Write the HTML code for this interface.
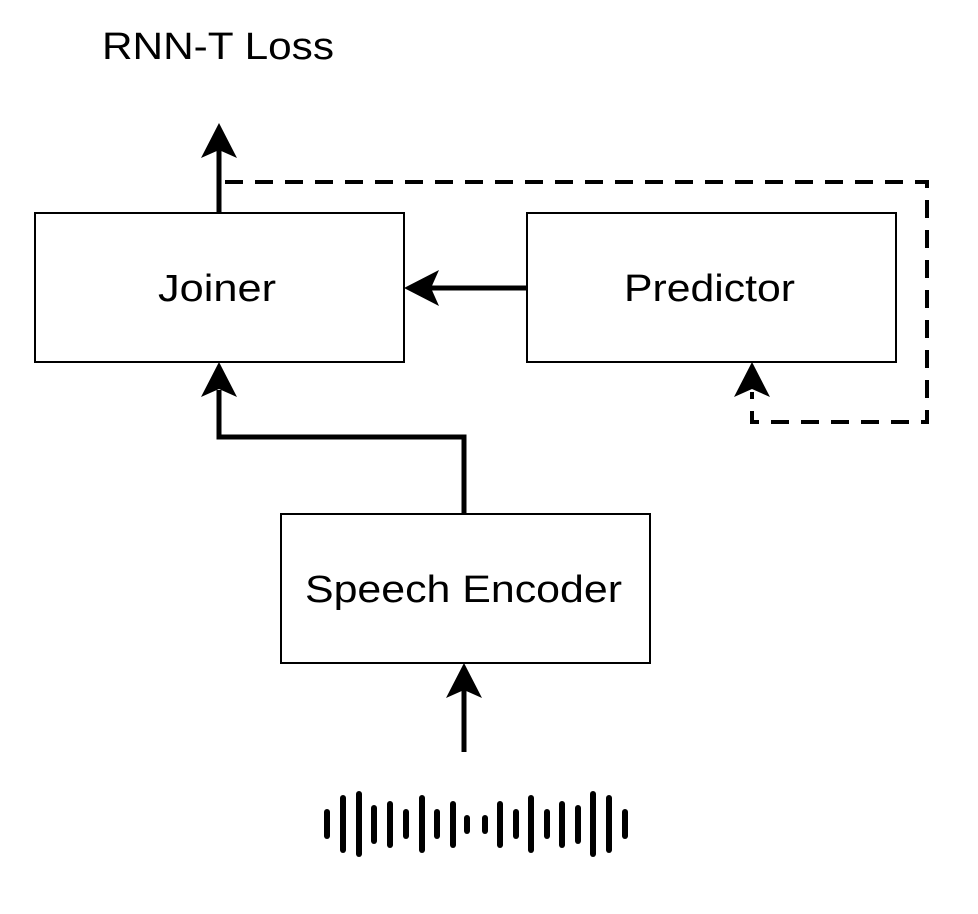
<!DOCTYPE html>
<html><head><style>
html,body{margin:0;padding:0;background:#fff;}
svg{display:block;}
text{font-family:"Liberation Sans",sans-serif;fill:#000;}
</style></head><body>
<svg width="978" height="914" viewBox="0 0 978 914" xmlns="http://www.w3.org/2000/svg">
<text x="102" y="59" font-size="38" textLength="232" lengthAdjust="spacingAndGlyphs">RNN-T Loss</text>
<rect x="35" y="213" width="369" height="149" fill="#fff" stroke="#000" stroke-width="2"/>
<rect x="527" y="213" width="369" height="149" fill="#fff" stroke="#000" stroke-width="2"/>
<rect x="281" y="514" width="369" height="149" fill="#fff" stroke="#000" stroke-width="2"/>
<text x="158" y="301" font-size="38" textLength="118" lengthAdjust="spacingAndGlyphs">Joiner</text>
<text x="624" y="301" font-size="38" textLength="171" lengthAdjust="spacingAndGlyphs">Predictor</text>
<text x="305" y="602" font-size="38" textLength="317" lengthAdjust="spacingAndGlyphs">Speech Encoder</text>
<line x1="219" y1="212" x2="219" y2="150" stroke="#000" stroke-width="5"/>
<path d="M219 123 L237 158 L219 150 L201 158 Z" fill="#000"/>
<path d="M225 182 H927 V422 H752 V392" fill="none" stroke="#000" stroke-width="4" stroke-dasharray="18 12"/>
<path d="M752 362 L770 397 L752 389 L734 397 Z" fill="#000"/>
<line x1="526" y1="288" x2="430" y2="288" stroke="#000" stroke-width="5"/>
<path d="M404 288 L439 270 L431 288 L439 306 Z" fill="#000"/>
<path d="M464 513 V437 H219 V390" fill="none" stroke="#000" stroke-width="5"/>
<path d="M219 362 L237 397 L219 389 L201 397 Z" fill="#000"/>
<line x1="464" y1="752" x2="464" y2="690" stroke="#000" stroke-width="5"/>
<path d="M464 663 L482 698 L464 690 L446 698 Z" fill="#000"/>
<g stroke="#000" stroke-width="6" stroke-linecap="round">
<line x1="327" y1="812" x2="327" y2="836"/>
<line x1="343" y1="798" x2="343" y2="850"/>
<line x1="359" y1="794" x2="359" y2="854"/>
<line x1="374" y1="808" x2="374" y2="841"/>
<line x1="390" y1="804" x2="390" y2="845"/>
<line x1="406" y1="812" x2="406" y2="836"/>
<line x1="422" y1="798" x2="422" y2="850"/>
<line x1="437" y1="812" x2="437" y2="836"/>
<line x1="453" y1="804" x2="453" y2="845"/>
<line x1="467" y1="818" x2="467" y2="831"/>
<line x1="485" y1="818" x2="485" y2="831"/>
<line x1="500" y1="804" x2="500" y2="845"/>
<line x1="516" y1="812" x2="516" y2="836"/>
<line x1="531" y1="798" x2="531" y2="850"/>
<line x1="547" y1="812" x2="547" y2="836"/>
<line x1="562" y1="804" x2="562" y2="845"/>
<line x1="578" y1="808" x2="578" y2="841"/>
<line x1="593" y1="794" x2="593" y2="854"/>
<line x1="609" y1="798" x2="609" y2="850"/>
<line x1="625" y1="812" x2="625" y2="836"/>
</g>
</svg>
</body></html>
